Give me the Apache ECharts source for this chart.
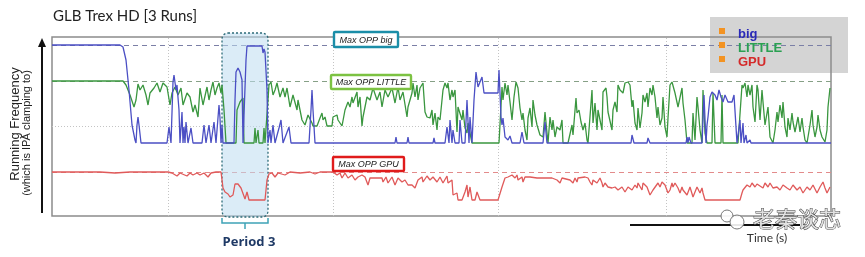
<!DOCTYPE html>
<html><head><meta charset="utf-8">
<script src="https://cdn.jsdelivr.net/npm/echarts@6/dist/echarts.min.js"></script>
<style>html,body{margin:0;padding:0;background:#fff}#c{width:865px;height:257px}</style>
</head><body><div id="c"></div>
<script>
// ---- data (time units, relative frequency units) ----
const chartTitle = 'GLB Trex HD [3 Runs]';
const seriesNames = ['big', 'LITTLE', 'GPU'];
const seriesColors = ['#4b4fc4', '#3a963f', '#e05a5a'];

const bigData = [[0,171],[68,171],[71,169],[74,156],[77,126],[80,91],[83,76],[84,73],[85,91],[86,99],[87,91],[89,73],[115,73],[117,89],[119,73],[121,134],[122,141],[124,126],[125,131],[127,106],[128,73],[130,104],[131,73],[132,89],[133,73],[134,94],[136,73],[139,88],[141,73],[150,73],[152,91],[154,73],[157,91],[159,73],[162,94],[164,73],[167,111],[168,98],[169,73],[170,91],[171,73],[182,73],[183,116],[184,144],[186,148],[188,144],[190,136],[191,73],[193,73],[194,156],[195,170],[210,170],[211,163],[212,167],[213,164],[214,166],[215,126],[216,73],[218,86],[219,73],[221,91],[223,73],[227,88],[229,96],[231,73],[237,89],[239,73],[257,73],[259,106],[260,126],[261,106],[263,73],[343,73],[344,79],[345,73],[355,73],[356,79],[357,73],[381,73],[382,78],[383,73],[393,73],[395,89],[397,73],[398,96],[400,73],[401,86],[403,73],[407,73],[408,96],[410,73],[413,73],[415,116],[417,73],[418,99],[420,73],[422,116],[424,144],[426,129],[428,131],[430,139],[432,123],[446,123],[447,146],[449,99],[450,91],[451,98],[453,79],[455,81],[456,76],[458,80],[460,73],[468,73],[470,84],[472,73],[491,73],[493,94],[495,73],[579,73],[580,81],[582,73],[595,73],[596,78],[598,73],[634,73],[635,79],[636,73],[637,79],[639,73],[650,73],[652,121],[654,73],[655,91],[656,99],[658,119],[660,124],[663,121],[665,116],[667,126],[669,119],[671,114],[673,121],[676,114],[680,114],[682,121],[684,120],[685,73],[687,73],[688,96],[689,73],[691,93],[692,73],[694,81],[695,73],[698,76],[699,73],[779,73]];

const littleData = [[0,135],[71,135],[74,131],[78,121],[82,109],[84,116],[86,132],[88,126],[90,124],[91,131],[94,121],[96,111],[98,123],[102,128],[105,133],[108,124],[111,133],[115,129],[118,111],[120,123],[123,129],[126,121],[129,128],[131,111],[135,123],[138,119],[141,104],[143,111],[146,99],[148,128],[151,111],[155,129],[157,116],[159,126],[161,134],[163,121],[165,128],[167,133],[169,123],[170,131],[172,106],[174,73],[184,73],[185,106],[188,114],[191,118],[192,73],[202,73],[203,88],[204,73],[206,86],[207,73],[211,73],[212,88],[213,73],[215,73],[217,131],[219,134],[221,121],[223,126],[225,133],[228,119],[231,128],[233,119],[235,128],[238,109],[241,121],[245,106],[246,116],[250,96],[253,91],[256,101],[260,93],[261,90],[265,90],[268,98],[270,103],[271,96],[273,99],[275,90],[280,90],[281,99],[285,101],[286,96],[288,93],[290,90],[293,106],[296,114],[298,109],[300,119],[301,113],[305,124],[306,109],[308,119],[310,90],[311,99],[315,119],[318,116],[321,128],[325,116],[328,124],[330,109],[333,126],[336,119],[340,128],[343,113],[346,129],[348,116],[351,124],[355,99],[356,109],[360,123],[361,133],[363,119],[365,131],[366,116],[368,128],[371,133],[373,104],[375,99],[378,98],[380,106],[381,91],[383,103],[385,86],[386,99],[388,96],[391,126],[393,133],[395,128],[396,133],[398,116],[400,126],[401,119],[403,126],[405,84],[406,109],[410,96],[411,106],[413,88],[415,83],[416,93],[420,73],[447,73],[450,129],[451,116],[453,133],[455,121],[456,131],[458,114],[460,96],[462,119],[464,134],[466,128],[468,108],[470,96],[471,103],[473,86],[475,76],[476,98],[478,108],[480,89],[481,116],[483,101],[485,91],[488,81],[491,79],[493,104],[495,83],[496,73],[498,99],[500,86],[501,96],[503,79],[505,89],[508,86],[510,96],[511,73],[516,73],[520,91],[521,81],[524,118],[525,103],[527,106],[529,94],[531,86],[533,93],[535,76],[536,73],[538,73],[540,126],[541,93],[543,113],[545,86],[546,106],[550,86],[551,124],[554,128],[555,119],[556,104],[560,86],[561,106],[563,114],[565,104],[566,131],[568,126],[570,128],[571,123],[573,133],[576,134],[578,131],[580,109],[581,116],[583,93],[585,86],[586,108],[588,88],[590,103],[591,121],[593,114],[595,123],[596,109],[598,128],[600,121],[601,131],[603,119],[605,98],[606,109],[608,91],[610,98],[611,119],[613,89],[615,79],[616,98],[618,131],[620,134],[623,123],[626,109],[630,128],[631,113],[633,96],[635,73],[640,73],[641,103],[643,76],[645,119],[646,109],[648,86],[650,73],[651,126],[653,83],[655,73],[660,73],[661,123],[663,73],[669,73],[670,121],[671,73],[686,73],[690,131],[691,128],[693,133],[695,119],[696,131],[698,121],[700,131],[701,109],[703,94],[705,131],[706,126],[708,96],[710,126],[711,114],[713,91],[715,89],[716,109],[718,79],[721,73],[723,86],[725,104],[726,94],[728,111],[730,98],[731,114],[733,89],[735,79],[736,98],[738,86],[740,103],[741,94],[743,84],[745,86],[746,99],[748,84],[750,98],[751,89],[753,76],[755,73],[758,91],[760,106],[761,91],[763,79],[765,89],[766,101],[768,86],[770,79],[773,74],[775,86],[776,109],[778,128]];

const gpuData = [[0,44],[48,44],[63,43],[78,44],[116,44],[120,43],[125,40],[128,43],[135,40],[138,43],[141,41],[145,43],[148,41],[152,43],[156,39],[159,43],[161,42],[164,44],[169,44],[171,28],[173,24],[176,22],[178,19],[181,21],[183,32],[186,32],[189,28],[191,26],[193,17],[195,24],[197,16],[213,16],[215,36],[217,42],[220,43],[223,39],[226,43],[233,41],[238,44],[248,43],[258,44],[263,42],[268,44],[281,44],[285,41],[288,43],[290,38],[293,43],[296,38],[300,41],[303,36],[306,39],[310,41],[313,39],[316,31],[318,38],[330,38],[331,34],[334,39],[336,33],[340,39],[343,31],[346,38],[350,34],[353,36],[356,31],[360,31],[363,28],[366,36],[370,39],[371,34],[375,40],[378,36],[381,39],[385,34],[388,39],[391,33],[395,40],[396,33],[400,36],[401,21],[405,23],[406,16],[410,16],[413,24],[415,31],[416,19],[418,29],[420,16],[423,16],[425,24],[426,23],[428,16],[446,16],[450,29],[453,38],[455,36],[456,39],[458,38],[460,41],[461,39],[463,38],[465,41],[466,36],[470,39],[471,34],[473,39],[475,41],[478,39],[485,38],[495,38],[500,38],[505,36],[508,33],[510,38],[518,36],[521,33],[523,38],[525,34],[526,38],[533,39],[536,38],[538,34],[540,31],[541,36],[543,38],[545,33],[548,38],[550,33],[551,29],[553,33],[556,29],[558,31],[560,28],[563,29],[566,26],[570,29],[573,24],[576,29],[580,26],[583,31],[585,28],[586,33],[590,26],[591,33],[595,29],[598,21],[601,26],[603,28],[606,33],[608,29],[610,34],[613,31],[616,23],[618,26],[620,33],[621,29],[623,33],[626,28],[628,23],[630,29],[631,26],[635,21],[638,29],[641,19],[645,29],[648,23],[650,28],[651,23],[653,16],[688,16],[690,23],[691,26],[695,31],[698,29],[700,33],[703,29],[705,32],[708,30],[711,28],[713,33],[715,34],[716,29],[718,33],[721,28],[725,29],[728,26],[731,31],[735,28],[738,26],[741,31],[745,26],[748,29],[751,23],[755,29],[758,26],[761,31],[765,23],[768,29],[771,34],[773,28],[775,23],[778,29]];

const maxOppLevels = [171, 135, 44];
const maxOppLabels = ['Max OPP big', 'Max OPP LITTLE', 'Max OPP GPU'];
const gridTimes = [116, 281, 446, 614];
const gridLevels = [90];
const period3 = [170, 216];
const periodLabel = 'Period 3';
const yTitle = ['Running Frequency', '(which is IPA clamping to)'];
const xTitle = 'Time (s)';
const tMax = 779, vMax = 179;

// ---- chart ----
const chart = echarts.init(document.getElementById('c'), null, {renderer: 'canvas'});
const dashColors = ['#7b7fa6', '#86a086', '#e38b8b'];
const datasets = [bigData, littleData, gpuData];

const seriesList = datasets.map((d, i) => {
  const ml = [{yAxis: maxOppLevels[i], lineStyle: {color: dashColors[i], type: [5, 4], width: 1.2}}];
  if (i === 2) {
    gridTimes.forEach(t => ml.push({xAxis: t, lineStyle: {color: '#c4c4c4', type: [1, 2], width: 1}}));
    gridLevels.forEach(v => ml.push({yAxis: v, lineStyle: {color: '#c4c4c4', type: [1, 2], width: 1}}));
  }
  return {
    name: seriesNames[i], type: 'line', data: d, showSymbol: false, symbol: 'none',
    lineStyle: {color: seriesColors[i], width: 1.3}, itemStyle: {color: seriesColors[i]},
    z: 3 + (i === 0 ? 1 : 0), animation: false,
    markLine: {silent: true, symbol: 'none', label: {show: false}, data: ml, z: 1, animation: false}
  };
});

chart.setOption({
  animation: false,
  grid: {left: 52, top: 37, width: 779, height: 179, show: true, borderColor: '#8c8c8c', borderWidth: 1.5, backgroundColor: 'transparent'},
  xAxis: {type: 'value', min: 0, max: tMax, show: false},
  yAxis: {type: 'value', min: 0, max: vMax, show: false},
  series: seriesList
});

const toPx = (t, v) => chart.convertToPixel({gridIndex: 0}, [t, v]);
const pL = toPx(period3[0], 0), pR = toPx(period3[1], 0);
const px0 = pL[0], px1 = pR[0], pmid = (px0 + px1) / 2;
const plotTop = 37, plotBot = 216;

const fontSans = '"Liberation Sans", Arial, sans-serif';
function labelBox(x, y, w, h, color, text) {
  return [
    {type: 'rect', shape: {x: x, y: y, width: w, height: h, r: 1}, style: {fill: '#fff', stroke: color, lineWidth: 2.4}, z: 20},
    {type: 'text', x: x + w / 2, y: y + h / 2 + 0.5, style: {text: text, fill: '#222', font: 'italic 9px ' + fontSans, align: 'center', verticalAlign: 'middle'}, z: 21}
  ];
}

const legendColors = ['#2a2ab8', '#2aa052', '#d42a2a'];
const graphics = [
  {type: 'rect', shape: {x: 710, y: 17, width: 138, height: 56}, style: {fill: '#d4d4d4'}, z: -10},
  {type: 'text', x: 53, y: 9, style: {text: chartTitle, fill: '#222', font: '15px Lato, sans-serif'}, z: 20},
  {type: 'line', shape: {x1: 42, y1: 213, x2: 42, y2: 44}, style: {stroke: '#111', lineWidth: 2}, z: 20},
  {type: 'polygon', shape: {points: [[42, 38], [38, 47], [46, 47]]}, style: {fill: '#111'}, z: 20},
  {type: 'text', x: 15, y: 124, rotation: Math.PI / 2, style: {text: yTitle[0], fill: '#222', font: '13px ' + fontSans, align: 'center', verticalAlign: 'middle'}, z: 20},
  {type: 'text', x: 27, y: 133, rotation: Math.PI / 2, style: {text: yTitle[1], fill: '#222', font: '11px ' + fontSans, align: 'center', verticalAlign: 'middle'}, z: 20},
  {type: 'rect', shape: {x: px0, y: plotTop - 4, width: px1 - px0, height: plotBot - plotTop + 5, r: 6}, style: {fill: 'rgba(190,220,240,0.55)', stroke: '#2d6b78', lineWidth: 1.3, lineDash: [2, 2]}, z: 2},
  {type: 'polyline', shape: {points: [[px0, 218], [px0, 223], [px1, 223], [px1, 218]]}, style: {stroke: '#3ea3b6', lineWidth: 1.5, fill: null}, z: 20},
  {type: 'line', shape: {x1: pmid, y1: 223, x2: pmid, y2: 229}, style: {stroke: '#3ea3b6', lineWidth: 1.5}, z: 20},
  {type: 'text', x: pmid + 4, y: 242, style: {text: periodLabel, fill: '#1f3a66', font: 'bold 13px "Open Sans", sans-serif', align: 'center', verticalAlign: 'middle'}, z: 20},
  {type: 'line', shape: {x1: 630, y1: 225, x2: 800, y2: 225}, style: {stroke: '#111', lineWidth: 2}, z: 20},
  {type: 'text', x: 767, y: 238, style: {text: xTitle, fill: '#333', font: '12px Lato, sans-serif', align: 'center', verticalAlign: 'middle'}, z: 22},
  {type: 'circle', shape: {cx: 727, cy: 216, r: 6}, style: {fill: 'rgba(255,255,255,0.9)', stroke: '#777', lineWidth: 1}, z: 23},
  {type: 'circle', shape: {cx: 737, cy: 222, r: 7}, style: {fill: 'rgba(255,255,255,0.9)', stroke: '#777', lineWidth: 1}, z: 23},
  {type: 'text', x: 797, y: 219, style: {text: '老秦谈芯', fill: '#e2e2e2', stroke: '#444', lineWidth: 1, font: '22px "Noto Sans CJK SC", sans-serif', align: 'center', verticalAlign: 'middle'}, z: 23}
];
seriesNames.forEach((n, i) => {
  graphics.push({type: 'rect', shape: {x: 719, y: 28 + i * 14, width: 6, height: 6}, style: {fill: '#f39322'}, z: 20});
  graphics.push({type: 'text', x: 738, y: 34 + i * 14, style: {text: n, fill: legendColors[i], font: 'bold 13px ' + fontSans, verticalAlign: 'middle'}, z: 20});
});
const boxes = [[334, 32, 64, 15, '#1b8ea8'], [331, 75, 80, 14, '#7cc242'], [333, 157, 71, 14, '#e01b1b']];
boxes.forEach((b, i) => labelBox(b[0], b[1], b[2], b[3], b[4], maxOppLabels[i]).forEach(g => graphics.push(g)));

chart.setOption({graphic: {elements: graphics}});
</script></body></html>
